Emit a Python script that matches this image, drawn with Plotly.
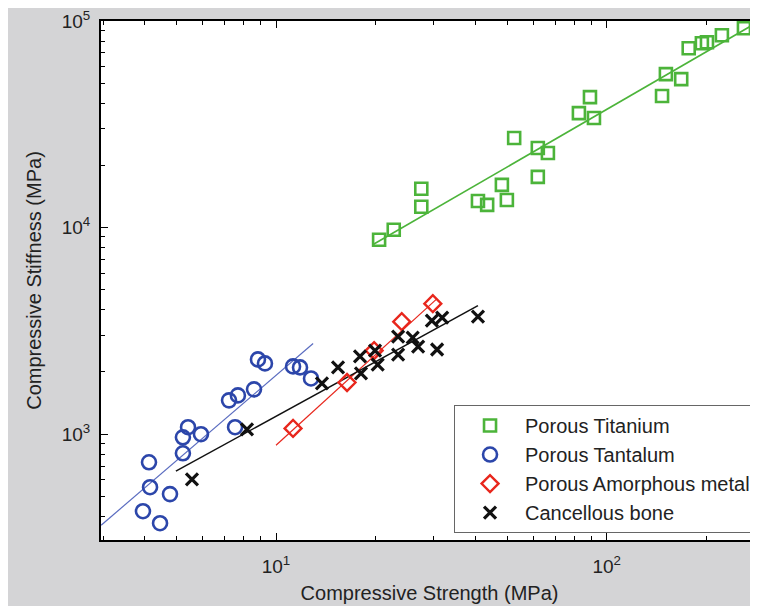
import plotly.graph_objects as go

# ---------------- data ----------------
ti_strength = [20.5, 22.7, 27.5, 27.5, 40.8, 43.5, 48.2, 49.9, 52.5, 61.9, 61.9, 66.4,
               82.4, 89.0, 91.5, 147, 151, 168, 177, 194, 201, 223, 260]
ti_stiffness = [8720, 9750, 15400, 12600, 13450, 12880, 16080, 13600, 27120, 24270, 17580, 22960,
                35800, 42800, 33900, 43300, 55300, 52300, 73800, 78000, 78900, 85300, 92300]

ta_strength = [4.13, 4.16, 3.96, 4.46, 4.78, 5.23, 5.23, 5.42, 5.93, 7.52, 7.21, 7.67,
               8.58, 8.82, 9.26, 11.26, 11.82, 12.76]
ta_stiffness = [730, 553, 423, 370, 512, 807, 964, 1079, 998, 1079, 1456, 1539,
                1646, 2298, 2198, 2126, 2102, 1858]

am_strength = [11.26, 16.4, 19.8, 24.0, 29.8]
am_stiffness = [1065, 1777, 2537, 3502, 4280]

cb_strength = [5.57, 8.17, 13.77, 15.4, 17.95, 18.07, 19.93, 20.3, 23.4, 23.4, 25.9, 26.9,
               30.7, 29.6, 31.8, 40.8]
cb_stiffness = [604, 1054, 1758, 2102, 2377, 1968, 2537, 2171, 2427, 2966, 2931, 2653,
                2567, 3544, 3666, 3707]

# fitted power-law lines (end points)
ti_fit_x = [19.6, 275]
ti_fit_y = [8250, 95300]
ta_fit_x = [2.96, 12.95]
ta_fit_y = [362, 2742]
am_fit_x = [10.0, 30.7]
am_fit_y = [882, 4525]
cb_fit_x = [4.98, 40.8]
cb_fit_y = [661, 4190]

x_tick_vals = [10, 100]
x_tick_text = ["10<sup>1</sup>", "10<sup>2</sup>"]
y_tick_vals = [1000, 10000, 100000]
y_tick_text = ["10<sup>3</sup>", "10<sup>4</sup>", "10<sup>5</sup>"]

GREEN = "#4cb43a"
BLUE = "#2c46aa"
BLUE_LINE = "#5a6cc0"
RED = "#e8261c"
BLACK = "#111111"

FONT = "Liberation Sans, Arial, Helvetica, sans-serif"

fig = go.Figure()

# fit lines (no legend)
for fx, fy, col, w in [(ti_fit_x, ti_fit_y, GREEN, 1.6), (ta_fit_x, ta_fit_y, BLUE_LINE, 1.2),
                       (am_fit_x, am_fit_y, RED, 1.2), (cb_fit_x, cb_fit_y, BLACK, 1.5)]:
    fig.add_trace(go.Scatter(x=fx, y=fy, mode="lines", line=dict(color=col, width=w),
                             showlegend=False, hoverinfo="skip"))

fig.add_trace(go.Scatter(x=ti_strength, y=ti_stiffness, mode="markers", name="Porous Titanium",
                         marker=dict(symbol="square-open", size=12, color=GREEN,
                                     line=dict(color=GREEN, width=2.6))))
fig.add_trace(go.Scatter(x=ta_strength, y=ta_stiffness, mode="markers", name="Porous Tantalum",
                         marker=dict(symbol="circle-open", size=14, color=BLUE,
                                     line=dict(color=BLUE, width=2.6))))
fig.add_trace(go.Scatter(x=am_strength, y=am_stiffness, mode="markers", name="Porous Amorphous metal",
                         marker=dict(symbol="diamond-open", size=13, color=RED,
                                     line=dict(color=RED, width=2.4))))
fig.add_trace(go.Scatter(x=cb_strength, y=cb_stiffness, mode="markers", name="Cancellous bone",
                         marker=dict(symbol="x-thin", size=12, color=BLACK,
                                     line=dict(color=BLACK, width=3.2))))

x_minor = [v * m for m in (1, 10, 100) for v in range(2, 10)]
y_minor = [v * m for m in (100, 1000, 10000) for v in range(2, 10)]

fig.update_layout(
    width=750, height=598,
    margin=dict(l=93, r=0, t=10, b=66),
    paper_bgcolor="#d4d4d6",
    plot_bgcolor="white",
    font=dict(family=FONT, color="#222222", size=19),
    showlegend=True,
    legend=dict(x=0.997, y=0.0134, xanchor="right", yanchor="bottom",
                bgcolor="white", bordercolor="#666666", borderwidth=1,
                font=dict(family=FONT, size=20, color="#222222"),
                itemwidth=60, tracegroupgap=0),
    xaxis=dict(type="log", range=[0.4708, 2.4575],
               tickvals=x_tick_vals, ticktext=x_tick_text,
               ticks="inside", ticklen=7, tickwidth=1, tickcolor="black",
               minor=dict(tickvals=x_minor, ticks="inside", ticklen=4, tickcolor="black", tickwidth=1),
               showline=True, linecolor="black", linewidth=2, mirror="ticks",
               showgrid=False, zeroline=False, ticklabelstandoff=8,
               ticklabeloverflow="allow",
               tickfont=dict(size=19, family=FONT, color="#222222"),
               title=dict(text="Compressive Strength (MPa)", standoff=10,
                          font=dict(size=20, family=FONT, color="#222222"))),
    yaxis=dict(type="log", range=[2.487, 5.0],
               tickvals=y_tick_vals, ticktext=y_tick_text,
               ticks="inside", ticklen=7, tickwidth=1, tickcolor="black",
               minor=dict(tickvals=y_minor, ticks="inside", ticklen=4, tickcolor="black", tickwidth=1),
               showline=True, linecolor="black", linewidth=2, mirror=False,
               showgrid=False, zeroline=False, ticklabelstandoff=5,
               ticklabeloverflow="allow",
               tickfont=dict(size=19, family=FONT, color="#222222"),
               title=dict(text="Compressive Stiffness (MPa)", standoff=15,
                          font=dict(size=20, family=FONT, color="#222222"))),
)

fig.write_html("out.html")
